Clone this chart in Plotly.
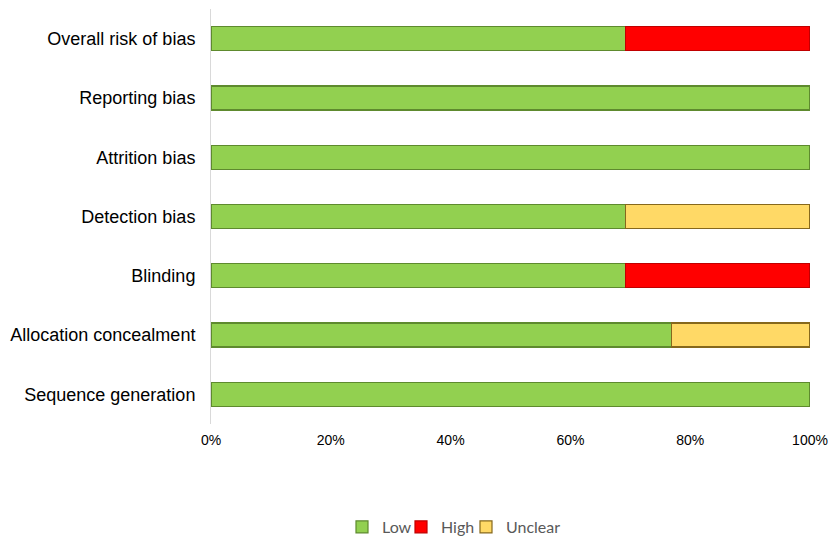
import plotly.graph_objects as go

categories = ["Sequence generation", "Allocation concealment", "Blinding",
              "Detection bias", "Attrition bias", "Reporting bias", "Overall risk of bias"]
low = [100, 76.9, 69.2, 69.2, 100, 100, 69.2]
high = [None, None, 30.8, None, None, None, 30.8]
unclear = [None, 23.1, None, 30.8, None, None, None]
x_ticks = [0, 20, 40, 60, 80, 100]
x_tick_labels = ["0%", "20%", "40%", "60%", "80%", "100%"]

L, R, T, B, W, H = 211, 24, 9, 116, 834, 540
PW = W - L - R

fig = go.Figure()
fig.add_bar(y=categories, x=low, name="Low", orientation="h", legend="legend",
            marker=dict(color="#92D050", line=dict(color="#5E8A2E", width=1.2)))
fig.add_bar(y=categories, x=high, name="High", orientation="h", legend="legend2",
            marker=dict(color="#FF0000", line=dict(color="#C00000", width=1.2)))
fig.add_bar(y=categories, x=unclear, name="Unclear", orientation="h", legend="legend3",
            marker=dict(color="#FFD966", line=dict(color="#86681C", width=1.2)))

leg_y = -(527 - (H - B)) / (H - T - B)
leg_font = dict(family="Lato, Open Sans, sans-serif", size=16, color="#595959")

def leg(px):
    return dict(orientation="h", x=(px - L) / PW, xanchor="left", y=leg_y, yanchor="middle",
                font=leg_font, itemwidth=30, bgcolor="rgba(0,0,0,0)", borderwidth=0)

fig.update_layout(
    width=W, height=H,
    barmode="stack", bargap=0.595,
    plot_bgcolor="white", paper_bgcolor="white",
    margin=dict(l=L, r=R, t=T, b=B, autoexpand=False),
    font=dict(family="Liberation Sans, Arial, sans-serif", color="#000000"),
    showlegend=True,
    legend=leg(342),
    legend2=leg(401),
    legend3=leg(466),
)
fig.update_xaxes(range=[0, 100], tickvals=x_ticks, ticktext=x_tick_labels,
                 showgrid=False, zeroline=False, showline=False,
                 tickfont=dict(size=14), ticklabelstandoff=6)
fig.update_yaxes(showgrid=False, showline=True, linecolor="#D9D9D9", linewidth=1,
                 tickfont=dict(size=18), ticklabelstandoff=11,
                 range=[-0.5, 6.5])

fig.write_html("out.html", config={"displayModeBar": False},
               post_script="document.body.style.margin='0px';")
